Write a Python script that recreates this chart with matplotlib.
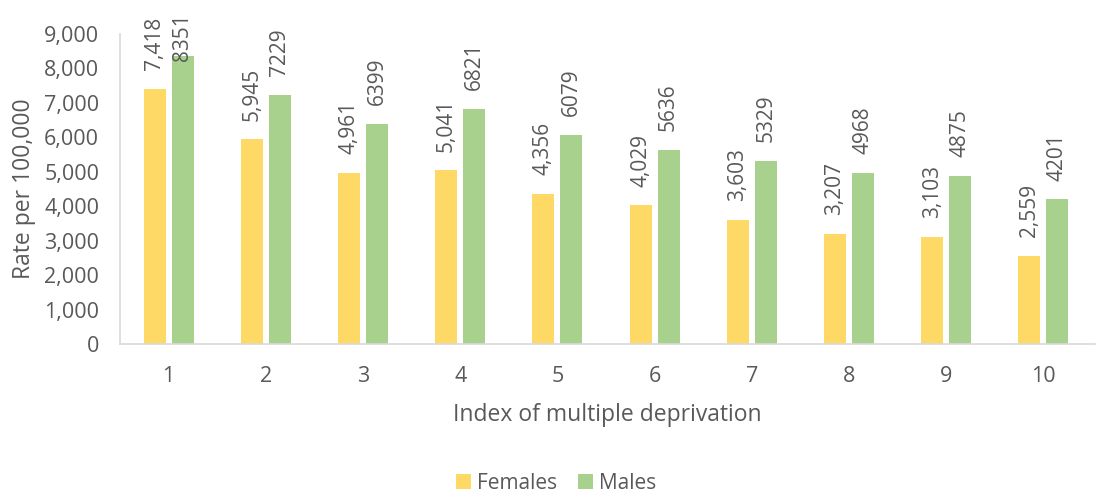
import matplotlib.pyplot as plt
import numpy as np

plt.rcParams['font.family'] = ['Open Sans', 'DejaVu Sans']

deprivation = [1, 2, 3, 4, 5, 6, 7, 8, 9, 10]
females = [7418, 5945, 4961, 5041, 4356, 4029, 3603, 3207, 3103, 2559]
males = [8351, 7229, 6399, 6821, 6079, 5636, 5329, 4968, 4875, 4201]

grey = '#595959'
fig = plt.figure(figsize=(10.97, 4.93), dpi=100)
ax = fig.add_axes([0.1094, 0.302, 0.8886, 0.629])

x = np.arange(len(deprivation))
w = 0.226
off = 0.144
bf = ax.bar(x - off, females, w, color='#FFD966', label='Females')
bm = ax.bar(x + off, males, w, color='#A9D18E', label='Males')

labels = []
for bars, vals, fmt in [(bf, females, '{:,}'), (bm, males, '{}')]:
    for rect, v in zip(bars, vals):
        t = ax.annotate(fmt.format(v), (rect.get_x() + rect.get_width() / 2, v),
                        xytext=(0, 13.5), textcoords='offset points',
                        rotation=90, ha='center', va='bottom',
                        fontsize=15, color=grey)
        labels.append(t)

ax.set_xlim(-0.5, len(deprivation) - 0.5 + 0.03)
ax.set_ylim(0, 9000)
ax.set_yticks(range(0, 9001, 1000))
ax.set_yticklabels([f'{t:,}' for t in range(0, 9001, 1000)])
ax.set_xticks(x)
ax.set_xticklabels([str(d) for d in deprivation])
ax.tick_params(axis='both', length=0, labelsize=15.5, colors=grey)
ax.tick_params(axis='x', pad=16)
ax.tick_params(axis='y', pad=15)

for s in ['top', 'right']:
    ax.spines[s].set_visible(False)
ax.spines['left'].set_color('#D9D9D9')
ax.spines['bottom'].set_color('#D9D9D9')
ax.spines['left'].set_linewidth(1.2)
ax.spines['bottom'].set_linewidth(1.2)

ax.set_xlabel('Index of multiple deprivation', fontsize=16.5, color=grey, labelpad=11)
ax.set_ylabel('Rate per 100,000', fontsize=16.5, color=grey, labelpad=6)

fig.legend(handles=[bf, bm], loc='center', bbox_to_anchor=(0.507, 0.02),
           ncol=2, frameon=False, fontsize=15, labelcolor=grey,
           handlelength=0.7, handleheight=0.7, handletextpad=0.3,
           columnspacing=1.0)

# keep labels inside the chart area: push down any that run past the top
fig.canvas.draw()
limit = fig.bbox.height - 13
for t in labels:
    bb = t.get_window_extent()
    if bb.y1 > limit:
        dy = (bb.y1 - limit) * 72 / fig.dpi
        ox, oy = t.xyann
        t.xyann = (ox, oy - dy)

fig.savefig('out.png', dpi=100)
